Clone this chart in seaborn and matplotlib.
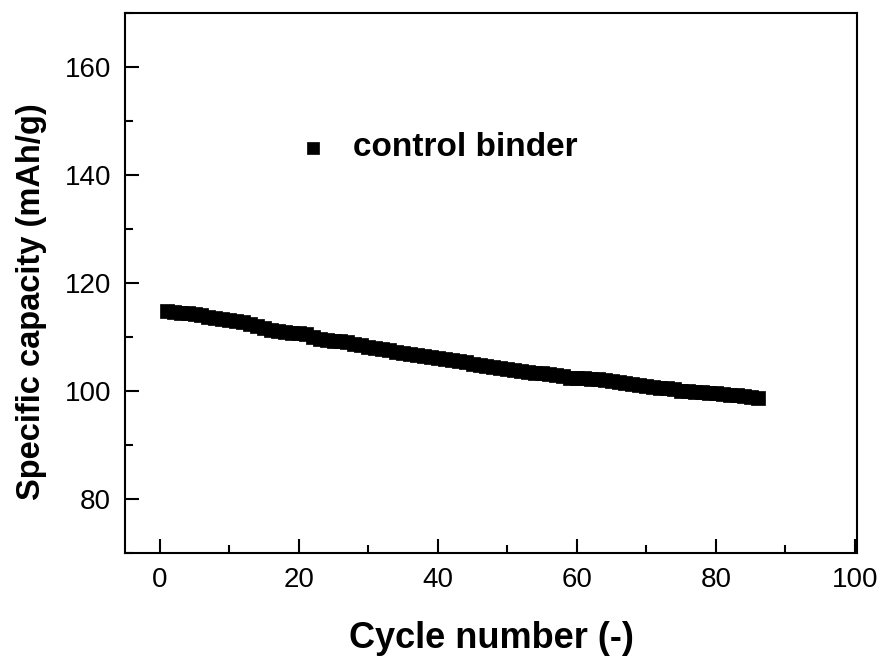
import numpy as np
import pandas as pd
import matplotlib
matplotlib.use("Agg")
import matplotlib.pyplot as plt
import seaborn as sns
from matplotlib.ticker import MultipleLocator

cycles = list(range(1, 87))
capacity = [
    114.9, 114.6, 114.5, 114.4, 114.3, 114.0, 113.8, 113.5, 113.3, 113.1,
    112.9, 112.8, 112.5, 112.1, 111.7, 111.4, 111.2, 111.0, 110.8, 110.7,
    110.5, 110.1, 109.7, 109.4, 109.3, 109.2, 109.0, 108.8, 108.5, 108.2,
    108.0, 107.8, 107.6, 107.3, 107.1, 106.9, 106.7, 106.5, 106.4, 106.2,
    106.0, 105.8, 105.6, 105.3, 105.0, 104.8, 104.7, 104.5, 104.3, 104.1,
    103.9, 103.7, 103.5, 103.4, 103.3, 103.1, 102.9, 102.7, 102.5, 102.4,
    102.4, 102.3, 102.2, 102.1, 101.9, 101.7, 101.5, 101.3, 101.1, 101.0,
    100.8, 100.6, 100.5, 100.3, 100.1, 100.0, 99.9, 99.8, 99.7, 99.6,
    99.5, 99.3, 99.2, 99.0, 98.9, 98.8,
]
series_label = "control binder"
x_label = "Cycle number (-)"
y_label = "Specific capacity (mAh/g)"

df = pd.DataFrame({"cycle": cycles, "capacity": capacity})

sns.set_theme(style="white")
plt.rcParams["font.family"] = ["Liberation Sans", "DejaVu Sans"]
plt.rcParams["text.color"] = "black"
plt.rcParams["axes.labelcolor"] = "black"
plt.rcParams["xtick.color"] = "black"
plt.rcParams["ytick.color"] = "black"

fig = plt.figure(figsize=(8.88, 6.62), dpi=100)
ax = fig.add_axes([0.1408, 0.1647, 0.965 - 0.1408, 0.980 - 0.1647])

sns.scatterplot(data=df, x="cycle", y="capacity", marker="s", color="black",
                edgecolor="black", linewidth=0.5, s=100, label=series_label, ax=ax)

ax.set_xlim(-5, 100.3)
ax.set_ylim(70, 170)
ax.xaxis.set_major_locator(MultipleLocator(20))
ax.xaxis.set_minor_locator(MultipleLocator(10))
ax.yaxis.set_major_locator(MultipleLocator(20))
ax.yaxis.set_minor_locator(MultipleLocator(10))
ax.set_yticks([80, 100, 120, 140, 160])

ax.tick_params(which="major", direction="in", length=10, width=1.5,
               labelsize=20, pad=10, colors="black")
ax.tick_params(which="minor", direction="in", length=6, width=1.5, colors="black")
ax.tick_params(axis="x", which="both", bottom=True, top=False)
ax.tick_params(axis="y", which="both", left=True, right=False)
for sp in ax.spines.values():
    sp.set_linewidth(1.5)
    sp.set_color("black")

ax.set_xlabel(x_label, fontsize=26, fontweight="bold", labelpad=20)
ax.set_ylabel(y_label, fontsize=23.5, fontweight="bold")
ax.yaxis.set_label_coords(-0.106, 0.465)

leg = ax.legend(loc="upper left", bbox_to_anchor=(0.170, 0.835), frameon=False,
                handletextpad=0.2, markerscale=0.9,
                prop={"weight": "bold", "size": 24})

fig.savefig("out.png", dpi=100)
